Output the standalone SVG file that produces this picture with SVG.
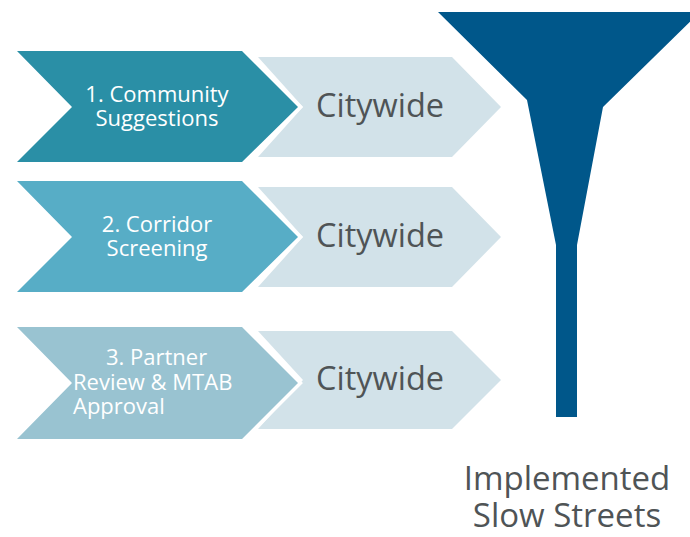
<svg xmlns="http://www.w3.org/2000/svg" width="690" height="537" viewBox="0 0 690 537">
<style>
.light{fill:#D2E2E9}
.step{stroke:#ffffff;stroke-width:7;stroke-linejoin:miter;paint-order:stroke}
.wt{font-family:"Open Sans","Liberation Sans",sans-serif;font-size:22px;fill:#ffffff}
.cw{font-family:"Open Sans","Liberation Sans",sans-serif;font-size:32.5px;fill:#4F5456;text-anchor:middle}
.out{font-family:"Open Sans","Liberation Sans",sans-serif;font-size:33px;fill:#4F5456;text-anchor:middle}
</style>
<rect width="690" height="537" fill="#ffffff"/>
<g id="funnel">
<polygon points="438,12 700,12 603,107 577,245 577,417 556,417 556,245 527,100" fill="#00578A"/>
</g>
<g id="citywide1">
<polygon class="light" points="258,57 452,57 501,107 452,157 258,157 303,107"/>
<text class="cw" x="380" y="117">Citywide</text>
</g>
<g id="citywide2">
<polygon class="light" points="258,187 452,187 501,237 452,287 258,287 303,237"/>
<text class="cw" x="380" y="247">Citywide</text>
</g>
<g id="citywide3">
<polygon class="light" points="258,331 452,331 501,380 452,429 258,429 303,380"/>
<text class="cw" x="380" y="390">Citywide</text>
</g>
<g id="step1">
<polygon class="step" fill="#2A8FA6" points="17,51 242,51 298,107 242,162 17,162 72,107"/>
<text class="wt" text-anchor="middle" x="157" y="102">1. Community</text>
<text class="wt" text-anchor="middle" x="157" y="126">Suggestions</text>
</g>
<g id="step2">
<polygon class="step" fill="#57ADC6" points="17,181 242,181 298,237 242,292 17,292 72,237"/>
<text class="wt" text-anchor="middle" x="157" y="232">2. Corridor</text>
<text class="wt" text-anchor="middle" x="157" y="256">Screening</text>
</g>
<g id="step3">
<polygon class="step" fill="#99C3D1" points="17,327 242,327 298,383 242,439 17,439 72,383"/>
<text class="wt" x="106" y="365">3. Partner</text>
<text class="wt" x="73" y="390">Review &amp; MTAB</text>
<text class="wt" x="73" y="414">Approval</text>
</g>
<g id="result">
<text class="out" x="567" y="490">Implemented</text>
<text class="out" x="567" y="527">Slow Streets</text>
</g>
<g id="connectors"></g>
</svg>
